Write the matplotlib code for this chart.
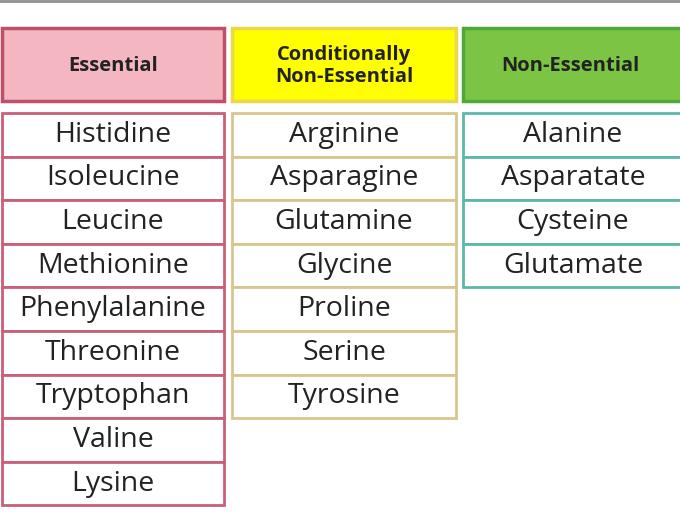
import matplotlib
matplotlib.use("Agg")
import matplotlib.pyplot as plt
from matplotlib.patches import Rectangle

categories = ["Essential", "Conditionally\nNon-Essential", "Non-Essential"]
essential = ["Histidine", "Isoleucine", "Leucine", "Methionine", "Phenylalanine",
             "Threonine", "Tryptophan", "Valine", "Lysine"]
conditional = ["Arginine", "Asparagine", "Glutamine", "Glycine", "Proline", "Serine", "Tyrosine"]
nonessential = ["Alanine", "Asparatate", "Cysteine", "Glutamate"]
columns = [essential, conditional, nonessential]

col_x = [(2, 224), (232, 456), (463, 682)]
head_fill = ["#f4b6c0", "#ffff00", "#7cc443"]
head_edge = ["#c0506a", "#e8d84a", "#4fa83a"]
cell_edge = ["#c9607a", "#d8c690", "#5cb8a8"]
row_top, row_h = 113, 43.6

fig = plt.figure(figsize=(6.8, 5.12), dpi=100)
ax = fig.add_axes([0, 0, 1, 1])
ax.set_xlim(0, 680)
ax.set_ylim(512, 0)
ax.axis("off")
font = ["Open Sans", "DejaVu Sans"]

ax.plot([0, 680], [1, 1], color="#909090", lw=2)

for i, (cat, items) in enumerate(zip(categories, columns)):
    x0, x1 = col_x[i]
    ax.add_patch(Rectangle((x0, 28), x1 - x0, 73, facecolor=head_fill[i],
                           edgecolor=head_edge[i], lw=2.5))
    ax.text((x0 + x1) / 2 if i < 2 else 570, 66, cat, ha="center", va="center",
            fontsize=14.5, fontweight="bold", color="#222222", family=font,
            linespacing=1.15)
    for j, name in enumerate(items):
        y = row_top + j * row_h
        ax.add_patch(Rectangle((x0, y), x1 - x0, row_h, facecolor="white",
                               edgecolor=cell_edge[i], lw=2))
        ax.text((x0 + x1) / 2 if i < 2 else 573, y + row_h / 2, name,
                ha="center", va="center", fontsize=20.5, color="#222222", family=font)

fig.savefig("out.png", dpi=100)
